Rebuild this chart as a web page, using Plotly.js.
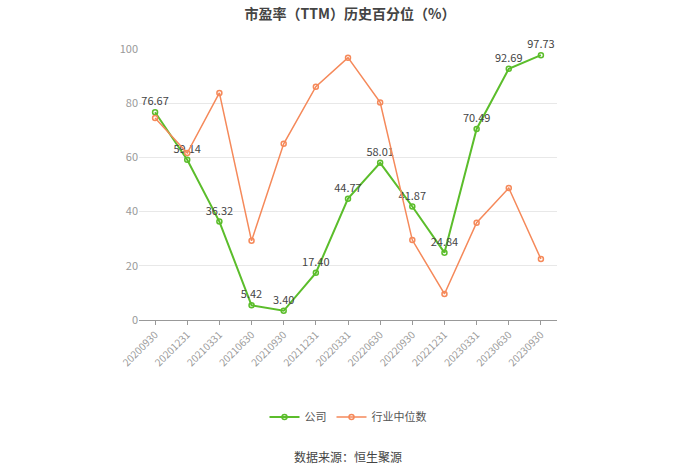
<!DOCTYPE html>
<html lang="zh">
<head>
    <meta charset="UTF-8">
    <title>市盈率（TTM）历史百分位（%）</title>
    <script src="https://cdn.plot.ly/plotly-3.0.1.min.js"></script>
    <style>
        body { margin: 0; background: #fff; }
        #graph { width: 700px; height: 474px; }
    </style>
</head>
<body>
    <div id="graph"></div>
    <script>
        var dates = ['20200930', '20201231', '20210331', '20210630', '20210930', '20211231', '20220331',
                     '20220630', '20220930', '20221231', '20230331', '20230630', '20230930'];
        var company = [76.67, 59.14, 36.32, 5.42, 3.40, 17.40, 44.77, 58.01, 41.87, 24.84, 70.49, 92.69, 97.73];
        var industry = [74.5, 61.6, 83.8, 29.2, 65.0, 86.1, 96.8, 80.3, 29.5, 9.6, 35.9, 48.7, 22.5];

        var font = '"Noto Sans CJK SC", "Noto Sans", sans-serif';

        var traceCompany = {
            x: dates,
            y: company,
            name: '公司',
            type: 'scatter',
            mode: 'lines+markers+text',
            text: company.map(function (v) { return v.toFixed(2); }),
            textposition: 'top center',
            textfont: { size: 11, color: '#444', family: font },
            line: { color: '#5bbd2b', width: 2 },
            marker: { symbol: 'circle-open', size: 5, color: '#5bbd2b', line: { width: 1.5 } },
            cliponaxis: false
        };

        var traceIndustry = {
            x: dates,
            y: industry,
            name: '行业中位数',
            type: 'scatter',
            mode: 'lines+markers',
            line: { color: '#f5895a', width: 1.5 },
            marker: { symbol: 'circle-open', size: 5, color: '#f5895a', line: { width: 1.5 } },
            cliponaxis: false
        };

        var layout = {
            width: 700,
            height: 474,
            margin: { l: 139, r: 143, t: 49, b: 154 },
            paper_bgcolor: '#fff',
            plot_bgcolor: '#fff',
            font: { family: font, color: '#999', size: 11 },
            showlegend: true,
            title: {
                text: '<b>市盈率（TTM）历史百分位（%）</b>',
                x: 0.5, xanchor: 'center', y: 0.97, yanchor: 'middle',
                font: { size: 14, color: '#444', family: font }
            },
            xaxis: {
                type: 'category',
                tickangle: -45,
                showgrid: false,
                showline: true,
                linecolor: '#999',
                linewidth: 1,
                ticks: 'outside',
                ticklen: 4,
                tickcolor: '#999',
                tickfont: { size: 10, color: '#999' },
                range: [-0.5, dates.length - 0.5]
            },
            yaxis: {
                range: [0, 100],
                tickvals: [0, 20, 40, 60, 80, 100],
                showgrid: true,
                gridcolor: '#e8e8e8',
                zeroline: false,
                showline: false,
                ticks: '',
                ticksuffix: '  ',
                tickfont: { size: 11, color: '#999' }
            },
            legend: {
                orientation: 'h',
                x: 0.5, xanchor: 'center',
                y: -0.358, yanchor: 'middle',
                font: { size: 11, color: '#555' },
                itemwidth: 30
            },
            annotations: [{
                text: '数据来源：恒生聚源',
                xref: 'paper', yref: 'paper',
                x: 0.5, xanchor: 'center',
                y: -0.505, yanchor: 'middle',
                showarrow: false,
                font: { size: 12, color: '#444', family: font }
            }]
        };

        Plotly.newPlot('graph', [traceCompany, traceIndustry], layout, { displayModeBar: false, staticPlot: true });
    </script>
</body>
</html>
